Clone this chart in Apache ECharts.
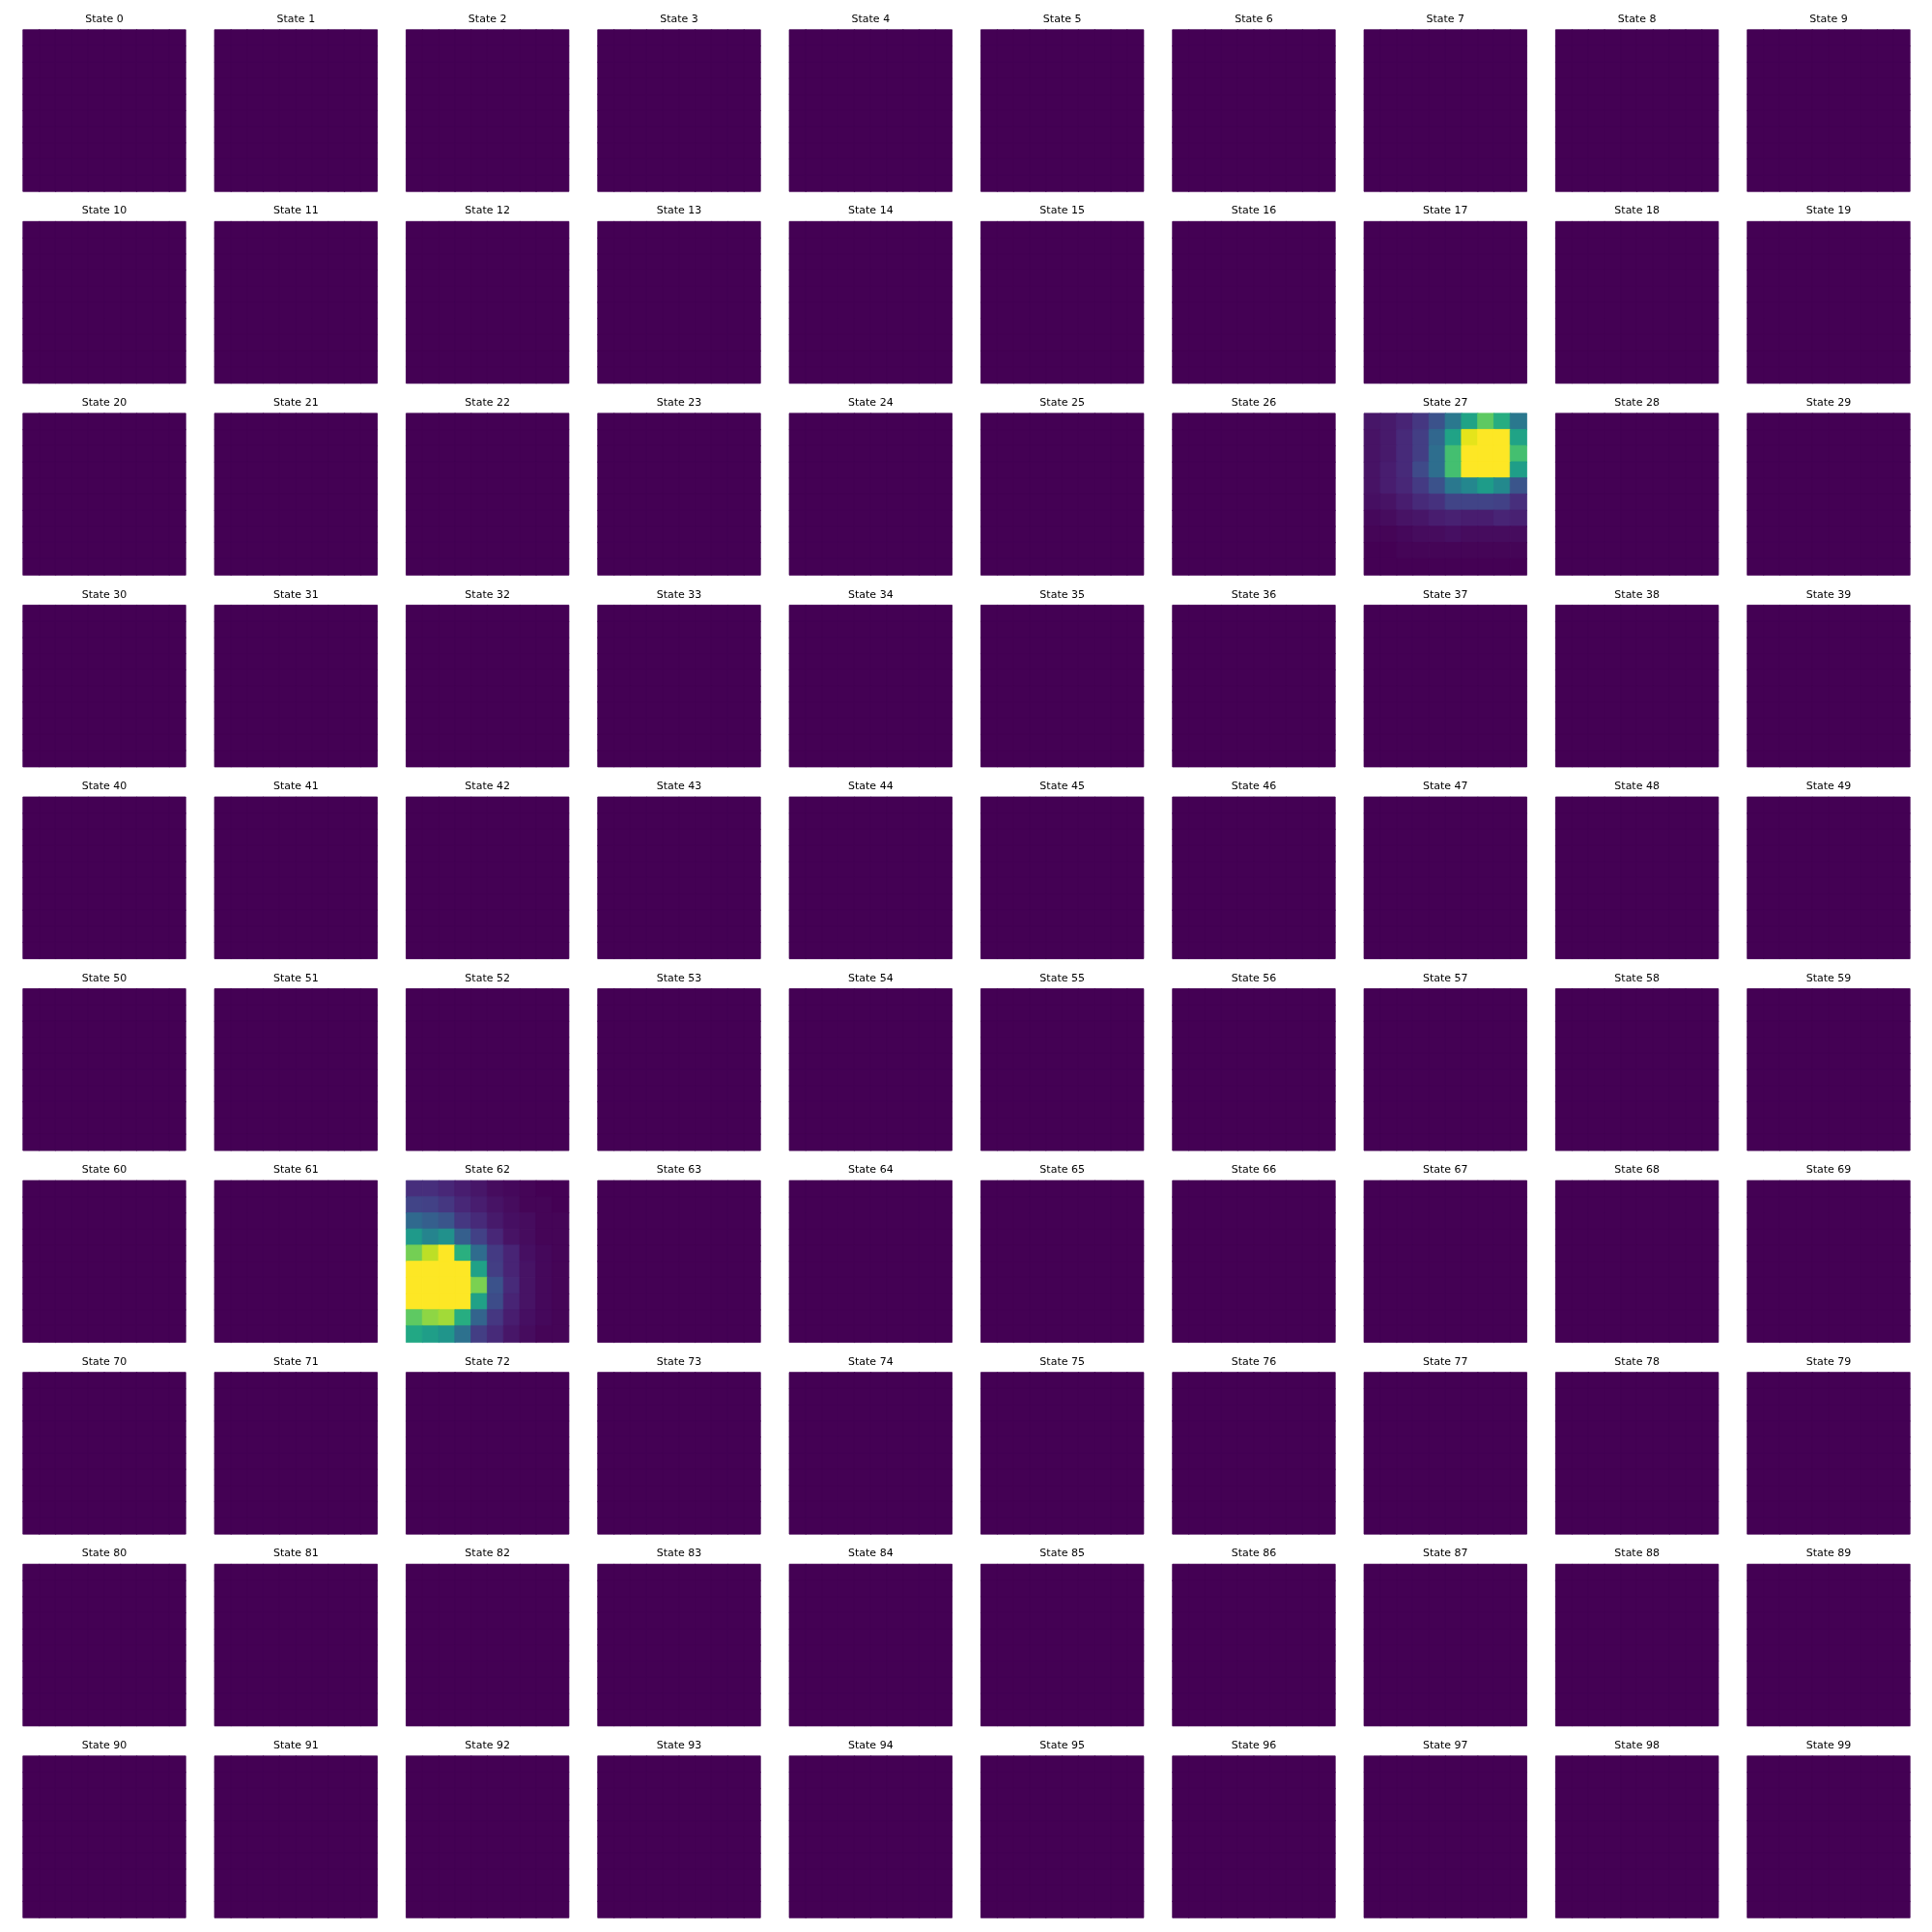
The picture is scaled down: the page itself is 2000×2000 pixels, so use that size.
<!DOCTYPE html>
<html>
<head>
<meta charset="utf-8">
<script src="https://cdn.jsdelivr.net/npm/echarts@6/dist/echarts.min.js"></script>
<style>html,body{margin:0;padding:0;background:#fff;}#c{width:2000px;height:2000px;}</style>
</head>
<body>
<div id="c"></div>
<script>
// ---- data ----
const stateCount = 100;
const gridCols = ['0','1','2','3','4','5','6','7','8','9'];
const gridRows = ['0','1','2','3','4','5','6','7','8','9'];
// normalized intensities (0..1); blank states are all zero
const blankGrid = [
  [0,0,0,0,0,0,0,0,0,0],
  [0,0,0,0,0,0,0,0,0,0],
  [0,0,0,0,0,0,0,0,0,0],
  [0,0,0,0,0,0,0,0,0,0],
  [0,0,0,0,0,0,0,0,0,0],
  [0,0,0,0,0,0,0,0,0,0],
  [0,0,0,0,0,0,0,0,0,0],
  [0,0,0,0,0,0,0,0,0,0],
  [0,0,0,0,0,0,0,0,0,0],
  [0,0,0,0,0,0,0,0,0,0]
];
const state27 = [
  [0.06,0.07,0.10,0.16,0.25,0.40,0.58,0.75,0.62,0.40],
  [0.05,0.07,0.12,0.18,0.33,0.58,0.96,1.00,1.00,0.58],
  [0.05,0.07,0.12,0.18,0.36,0.70,1.00,1.00,1.00,0.70],
  [0.05,0.08,0.12,0.22,0.36,0.70,1.00,1.00,1.00,0.56],
  [0.05,0.08,0.11,0.17,0.25,0.40,0.46,0.55,0.47,0.26],
  [0.04,0.05,0.08,0.12,0.14,0.20,0.20,0.20,0.19,0.13],
  [0.02,0.03,0.05,0.06,0.08,0.09,0.08,0.08,0.10,0.09],
  [0.01,0.01,0.02,0.03,0.03,0.04,0.03,0.03,0.03,0.03],
  [0.00,0.00,0.01,0.01,0.01,0.01,0.01,0.01,0.01,0.01],
  [0.00,0.00,0.00,0.00,0.00,0.00,0.00,0.00,0.00,0.00]
];
const state62 = [
  [0.13,0.13,0.11,0.08,0.06,0.03,0.02,0.01,0.00,0.00],
  [0.20,0.19,0.16,0.11,0.08,0.05,0.03,0.01,0.01,0.00],
  [0.34,0.30,0.26,0.16,0.12,0.07,0.04,0.03,0.01,0.01],
  [0.54,0.45,0.50,0.30,0.19,0.11,0.05,0.03,0.01,0.01],
  [0.79,0.90,1.00,0.63,0.35,0.17,0.10,0.04,0.02,0.01],
  [1.00,1.00,1.00,1.00,0.57,0.18,0.10,0.05,0.02,0.01],
  [1.00,1.00,1.00,1.00,0.80,0.25,0.12,0.05,0.02,0.01],
  [1.00,1.00,1.00,1.00,0.57,0.23,0.10,0.05,0.02,0.01],
  [0.75,0.83,0.86,0.62,0.32,0.16,0.08,0.04,0.02,0.01],
  [0.60,0.56,0.52,0.37,0.18,0.12,0.06,0.03,0.01,0.01]
];
const activeStateIds = [27, 62];
const activeStateGrids = [state27, state62];
const viridis = ['#440154','#471365','#482475','#463480','#414487','#3b528b','#355f8d','#2f6c8e','#2a788e','#25848e','#21918c','#1e9c89','#22a884','#2fb47c','#44bf70','#5ec962','#7ad151','#9bd93c','#bddf26','#dfe318','#fde725'];

// ---- layout ----
const panelsPerRow = 10;
const left0 = 24, top0 = 31, pitchX = 198.33, pitchY = 198.56, panelW = 168, panelH = 167;

const grids = [], xAxes = [], yAxes = [], series = [], texts = [];
for (let s = 0; s < stateCount; s++) {
  const col = s % panelsPerRow, row = Math.floor(s / panelsPerRow);
  const L = left0 + col * pitchX, T = top0 + row * pitchY;
  const k = activeStateIds.indexOf(s);
  grids.push({left: L, top: T, width: panelW, height: panelH, containLabel: false,
    show: true, borderWidth: 0, backgroundColor: k >= 0 ? 'transparent' : '#440154'});
  xAxes.push({type: 'category', gridIndex: s, data: gridCols, show: false, boundaryGap: true});
  yAxes.push({type: 'category', gridIndex: s, data: gridRows, show: false, inverse: true, boundaryGap: true});
  const g = k >= 0 ? activeStateGrids[k] : blankGrid;
  const d = [];
  for (let r = 0; r < 10; r++) for (let c = 0; c < 10; c++) {
    const v = g[r][c];
    // border in the cell's own mapped colour hides anti-aliasing seams between cells
    d.push({value: [c, r, v], itemStyle: {borderColor: echarts.color.lerp(v, viridis), borderWidth: 0.8}});
  }
  series.push({type: 'heatmap', xAxisIndex: s, yAxisIndex: s, data: d, silent: true,
    emphasis: {disabled: true}, progressive: 0, animation: false});
  texts.push({type: 'text', x: L + panelW / 2, y: T - 11, silent: true,
    style: {text: 'State ' + s, align: 'center', verticalAlign: 'middle',
      fontSize: 11, fontFamily: 'DejaVu Sans', fill: '#000'}});
}

const chart = echarts.init(document.getElementById('c'), null, {renderer: 'canvas'});
chart.setOption({
  animation: false,
  backgroundColor: '#ffffff',
  grid: grids,
  xAxis: xAxes,
  yAxis: yAxes,
  visualMap: {type: 'continuous', show: false, min: 0, max: 1, seriesIndex: series.map((_, i) => i),
    inRange: {color: viridis}},
  series: series,
  graphic: texts
});
</script>
</body>
</html>
